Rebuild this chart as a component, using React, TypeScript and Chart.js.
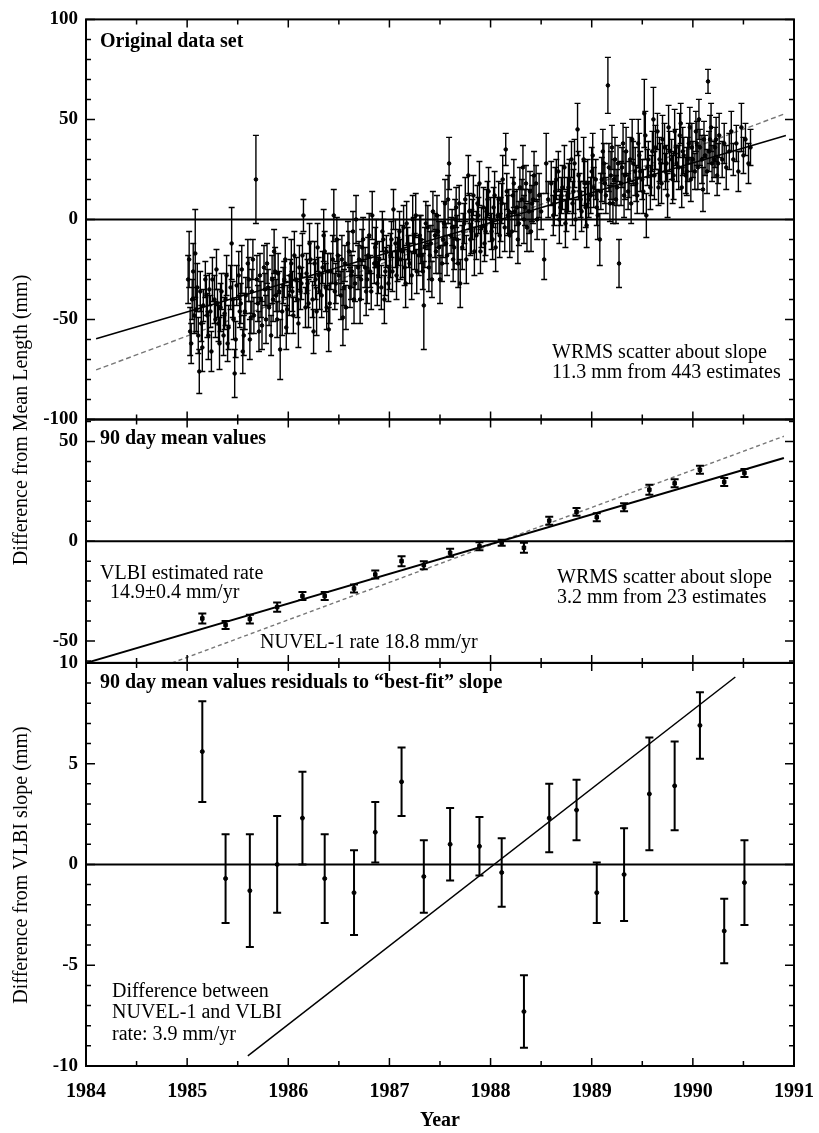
import React, { useEffect, useRef } from 'react';
import { Chart, registerables } from 'chart.js';

Chart.register(...registerables);

// axis tick values
const yearTicks = [1984, 1985, 1986, 1987, 1988, 1989, 1990, 1991];
const topTicks = [-100, -50, 0, 50, 100];
const midTicks = [-50, 0, 50];
const botTicks = [-10, -5, 0, 5, 10];

// panel 1: original data set (year, mm, +/- mm)
const origYears = [
  1985.02, 1985.03, 1985.05, 1985.07, 1985.08, 1985.10, 1985.12, 1985.14, 1985.16, 1985.19,
  1985.21, 1985.23, 1985.25, 1985.28, 1985.30, 1985.32, 1985.34, 1985.37, 1985.39, 1985.41,
  1985.44, 1985.45, 1985.47, 1985.49, 1985.52, 1985.54, 1985.56, 1985.58, 1985.61, 1985.63,
  1985.65, 1985.68, 1985.70, 1985.72, 1985.74, 1985.77, 1985.79, 1985.81, 1985.84, 1985.86,
  1985.88, 1985.90, 1985.92, 1985.95, 1985.97, 1985.99, 1986.02, 1986.04, 1986.06, 1986.09,
  1986.11, 1986.13, 1986.15, 1986.18, 1986.20, 1986.22, 1986.25, 1986.27, 1986.29, 1986.31,
  1986.34, 1986.35, 1986.38, 1986.40, 1986.42, 1986.45, 1986.47, 1986.49, 1986.52, 1986.54,
  1986.56, 1986.59, 1986.61, 1986.63, 1986.65, 1986.67, 1986.70, 1986.72, 1986.74, 1986.77,
  1986.79, 1986.81, 1986.83, 1986.86, 1986.88, 1986.90, 1986.93, 1986.95, 1986.97, 1987.00,
  1987.02, 1987.04, 1987.07, 1987.09, 1987.11, 1987.14, 1987.16, 1987.18, 1987.20, 1987.23,
  1987.25, 1987.27, 1987.30, 1987.32, 1987.34, 1987.36, 1987.39, 1987.41, 1987.43, 1987.46,
  1987.48, 1987.50, 1987.53, 1987.55, 1987.57, 1987.59, 1987.62, 1987.64, 1987.66, 1987.68,
  1987.70, 1987.73, 1987.75, 1987.78, 1987.80, 1987.82, 1987.84, 1987.87, 1987.89, 1987.91,
  1987.94, 1987.96, 1987.98, 1988.01, 1988.03, 1988.05, 1988.08, 1988.10, 1988.12, 1988.15,
  1988.17, 1988.19, 1988.22, 1988.24, 1988.27, 1988.29, 1988.32, 1988.34, 1988.36, 1988.39,
  1988.41, 1988.43, 1988.46, 1988.48, 1988.50, 1988.53, 1988.55, 1988.57, 1988.60, 1988.62,
  1988.64, 1988.67, 1988.69, 1988.71, 1988.74, 1988.76, 1988.78, 1988.81, 1988.83, 1988.86,
  1988.88, 1988.90, 1988.93, 1988.95, 1988.97, 1989.00, 1989.02, 1989.05, 1989.08, 1989.10,
  1989.12, 1989.14, 1989.16, 1989.19, 1989.21, 1989.23, 1989.25, 1989.27, 1989.30, 1989.32,
  1989.34, 1989.37, 1989.39, 1989.41, 1989.44, 1989.46, 1989.48, 1989.51, 1989.52, 1989.54,
  1989.56, 1989.59, 1989.61, 1989.63, 1989.66, 1989.68, 1989.70, 1989.73, 1989.75, 1989.77,
  1989.80, 1989.82, 1989.84, 1989.87, 1989.89, 1989.91, 1989.94, 1989.96, 1989.98, 1990.00,
  1990.03, 1990.05, 1990.07, 1990.10, 1990.12, 1990.15, 1990.17, 1990.19, 1990.22, 1990.24,
  1990.26, 1990.29, 1990.31, 1990.33, 1990.36, 1990.38, 1990.40, 1990.43, 1990.45, 1990.48,
  1990.50, 1990.52, 1990.55, 1990.57,
  // overlapping estimates inside the dense cloud
  1985.01, 1985.04, 1985.06, 1985.09, 1985.11, 1985.13, 1985.15, 1985.18, 1985.20, 1985.22,
  1985.24, 1985.27, 1985.29, 1985.31, 1985.33, 1985.36, 1985.38, 1985.40, 1985.43, 1985.46,
  1985.48, 1985.51, 1985.53, 1985.55, 1985.57, 1985.60, 1985.62, 1985.64, 1985.66, 1985.69,
  1985.71, 1985.73, 1985.76, 1985.78, 1985.80, 1985.83, 1985.85, 1985.87, 1985.89, 1985.91,
  1985.94, 1985.96, 1985.98, 1986.01, 1986.03, 1986.05, 1986.08, 1986.10, 1986.12, 1986.14,
  1986.17, 1986.19, 1986.21, 1986.24, 1986.26, 1986.28, 1986.30, 1986.33, 1986.36, 1986.37,
  1986.39, 1986.41, 1986.44, 1986.46, 1986.48, 1986.50, 1986.53, 1986.55, 1986.57, 1986.60,
  1986.62, 1986.64, 1986.66, 1986.69, 1986.71, 1986.73, 1986.76, 1986.78, 1986.80, 1986.82,
  1986.85, 1986.87, 1986.89, 1986.92, 1986.94, 1986.96, 1986.99, 1987.01, 1987.03, 1987.06,
  1987.08, 1987.10, 1987.13, 1987.15, 1987.17, 1987.19, 1987.22, 1987.24, 1987.26, 1987.29,
  1987.31, 1987.33, 1987.35, 1987.38, 1987.40, 1987.42, 1987.45, 1987.47, 1987.49, 1987.52,
  1987.54, 1987.56, 1987.58, 1987.61, 1987.63, 1987.65, 1987.67, 1987.69, 1987.72, 1987.74,
  1987.76, 1987.79, 1987.81, 1987.83, 1987.86, 1987.88, 1987.90, 1987.93, 1987.95, 1987.97,
  1988.00, 1988.02, 1988.04, 1988.07, 1988.09, 1988.11, 1988.14, 1988.16, 1988.18, 1988.21,
  1988.23, 1988.26, 1988.28, 1988.31, 1988.33, 1988.35, 1988.38, 1988.40, 1988.42, 1988.45,
  1988.63, 1988.65, 1988.68, 1988.70, 1988.73, 1988.75, 1988.77, 1988.80, 1988.82, 1988.84,
  1988.87, 1988.89, 1988.92, 1988.94, 1988.96, 1988.99, 1989.01, 1989.04, 1989.06, 1989.09,
  1989.11, 1989.13, 1989.17, 1989.18, 1989.20, 1989.22, 1989.24, 1989.26, 1989.29, 1989.31,
  1989.33, 1989.36, 1989.38, 1989.40, 1989.43, 1989.45, 1989.47, 1989.50, 1989.53, 1989.55,
  1989.58, 1989.60, 1989.62, 1989.65, 1989.67, 1989.69, 1989.72, 1989.74, 1989.76, 1989.79,
  1989.81, 1989.83, 1989.86, 1989.88, 1989.90, 1989.93, 1989.95, 1989.97, 1989.99, 1990.02,
  1990.04, 1990.06, 1990.09, 1990.11, 1990.14, 1990.16, 1990.18, 1990.21, 1990.23, 1990.25,
];
const origValues = [
  -20, -56, -40, -48, -17, -34, -76, -52, -43, -38,
  -58, -46, -30, -50, -42, -62, -36, -47, -28, -54,
  -12, -40, -77, -33, -46, -25, -58, -38, -30, -49,
  -20, 20, -42, -28, -53, -35, -22, -44, -30, -16,
  -38, -27, -65, -33, -20, -45, -28, -36, -18, -40,
  -24, -32, 2, -27, -42, -20, -56, -30, -14, -36,
  -24, -8, -44, -55, -26, 2, -32, -18, -38, -49,
  -22, -12, -34, -26, -40, 0, -20, -30, -10, -36,
  -18, -26, 2, -14, -32, -20, -6, -40, -16, -24,
  -10, 5, -28, -14, -20, -4, -32, -12, -22, 0,
  -16, -26, -8, -18, -43, -2, -24, -12, 4, -16,
  -6, -30, -10, 8, -18, 28, -4, -14, 6, -22,
  -32, -6, 10, 22, -10, 0, -16, 8, 18, -4,
  -12, 4, 14, -6, 6, -14, 10, 0, 20, 35,
  2, -8, 12, 4, -10, 16, 26, 6, -4, 14,
  8, 22, 0, 12, 4, -20, 28, 10, 18, 2,
  14, 24, 6, 16, -2, 12, 20, 8, 28, 45,
  14, 4, 18, -3, 10, 24, 16, 6, -10, 20,
  28, 12, 67, 22, 8, 30, 16, -22, 26, 12,
  34, 20, 8, 28, 18, 38, 24, 14, 53, 2,
  30, 22, 50, 36, 16, 28, 40, 24, 12, 34,
  20, 44, 28, 42, 16, 32, 24, 38, 20, 30,
  44, 26, 36, 15, 32, 69, 40, 28, 36, 22,
  42, 30, 38, 26, 34, 44, 30, 38, 24, 46,
  32, 40, 28, 36,
  -30, -62, -26, -45, -58, -36, -64, -30, -48, -35,
  -66, -40, -25, -52, -44, -58, -40, -62, -34, -50,
  -60, -28, -42, -66, -46, -22, -60, -36, -48, -30,
  -56, -40, -24, -50, -34, -58, -40, -26, -50, -36,
  -46, -30, -54, -38, -22, -48, -30, -52, -36, -18,
  -44, -32, -12, -40, -22, -46, -28, -38, -16, -34,
  -26, -42, -20, -36, -10, -28, -20, -34, -44, -16,
  -28, -6, -32, -24, -40, -14, -24, -30, -8, -36,
  -22, -12, -28, -34, -10, -26, -32, -18, -26, -12,
  -20, -6, -16, -24, -2, -16, -28, -8, 2, -18,
  -10, -26, -14, -4, -18, -30, -8, 2, -14, -22,
  -2, -12, 10, -8, -20, 0, -10, 8, -14, -2,
  -20, 4, -6, 12, -8, 2, -16, 6, -6, 10,
  0, -10, 12, 2, -8, 8, -4, 14, 4, -6,
  18, 6, -2, 10, 0, 18, 4, -6, 10, 18,
  8, 20, 0, 12, 26, 4, 16, 30, 14, 0,
  22, 10, 30, 6, 18, 12, 32, 20, 2, 14,
  34, 18, 26, 8, 36, 20, 10, 28, 18, 38,
  22, 14, 30, 40, 24, 12, 32, 20, 42, 26,
  16, 34, 22, 44, 30, 18, 36, 28, 46, 30,
  22, 36, 26, 48, 34, 22, 30, 46, 36, 24,
  38, 50, 30, 40, 24, 34, 46, 30, 40, 28,
];
const origErrors = [
  14, 12, 10, 9, 22, 12, 11, 9, 8, 10,
  12, 8, 11, 9, 7, 13, 9, 8, 10, 11,
  18, 9, 12, 10, 8, 12, 10, 9, 11, 8,
  10, 22, 9, 11, 12, 8, 10, 9, 12, 11,
  8, 10, 15, 9, 11, 12, 8, 10, 12, 9,
  11, 8, 8, 10, 12, 9, 11, 10, 12, 9,
  8, 13, 11, 11, 9, 13, 10, 8, 12, 14,
  9, 11, 10, 8, 12, 12, 9, 10, 11, 12,
  9, 8, 12, 10, 11, 9, 10, 12, 8, 11,
  9, 10, 12, 9, 10, 11, 12, 8, 10, 12,
  9, 11, 10, 8, 22, 11, 12, 9, 10, 11,
  8, 12, 9, 12, 10, 13, 9, 11, 10, 12,
  12, 9, 11, 10, 8, 10, 12, 9, 11, 10,
  9, 11, 12, 9, 10, 12, 9, 11, 12, 8,
  10, 11, 9, 10, 12, 10, 11, 9, 12, 10,
  9, 12, 10, 11, 9, 10, 15, 9, 11, 10,
  12, 10, 9, 11, 12, 9, 10, 11, 12, 13,
  9, 10, 11, 11, 9, 12, 10, 9, 13, 11,
  10, 9, 14, 12, 10, 11, 9, 12, 10, 11,
  12, 9, 10, 11, 9, 12, 10, 11, 17, 11,
  9, 10, 16, 11, 9, 10, 12, 9, 11, 10,
  12, 11, 9, 11, 10, 9, 12, 10, 11, 9,
  10, 11, 9, 11, 10, 6, 12, 9, 10, 10,
  11, 9, 10, 11, 9, 10, 8, 9, 10, 12,
  9, 8, 10, 9,
  12, 10, 14, 11, 9, 10, 12, 9, 11, 8,
  10, 12, 10, 9, 12, 10, 13, 9, 11, 10,
  9, 12, 10, 11, 9, 12, 10, 11, 9, 12,
  10, 9, 11, 12, 9, 10, 11, 12, 9, 10,
  12, 9, 11, 10, 12, 9, 11, 12, 9, 11,
  10, 12, 10, 9, 11, 12, 9, 11, 10, 12,
  9, 10, 12, 9, 11, 10, 12, 9, 11, 10,
  12, 10, 9, 11, 12, 9, 10, 12, 11, 9,
  10, 12, 9, 11, 10, 12, 9, 11, 10, 12,
  11, 10, 13, 9, 11, 8, 12, 9, 11, 10,
  12, 9, 10, 11, 12, 9, 11, 10, 13, 9,
  11, 10, 12, 9, 11, 10, 12, 9, 11, 10,
  12, 9, 11, 10, 12, 9, 11, 10, 12, 9,
  11, 10, 12, 9, 11, 10, 12, 9, 11, 10,
  12, 9, 11, 10, 12, 9, 11, 10, 12, 9,
  11, 10, 12, 9, 11, 10, 12, 9, 11, 10,
  12, 9, 11, 10, 12, 9, 11, 10, 12, 9,
  11, 10, 12, 9, 11, 10, 12, 9, 11, 10,
  12, 9, 11, 10, 12, 9, 11, 10, 12, 9,
  11, 10, 12, 9, 11, 10, 12, 9, 11, 10,
  12, 9, 11, 10, 12, 9, 11, 10, 12, 9,
  11, 10, 12, 9, 11, 10, 12, 9, 11, 10,
];

// rate lines (end points)
const vlbiTopX = [1984.1, 1990.92];
const vlbiTopY = [-59.6, 42.0];
const nuvelTopX = [1984.1, 1990.92];
const nuvelTopY = [-75.2, 53.0];

// panel 2: 90 day means
const epochYears = [
  1985.15, 1985.38, 1985.62, 1985.89, 1986.14, 1986.36, 1986.65, 1986.86, 1987.12, 1987.34,
  1987.60, 1987.89, 1988.11, 1988.33, 1988.58, 1988.85, 1989.05, 1989.32, 1989.57, 1989.82,
  1990.07, 1990.31, 1990.51,
];
const meanValues = [
  -38.7, -42, -39, -33, -27.5, -27.5, -23.7, -16.7, -10, -12,
  -5.8, -2.5, -0.8, -3.3, 10.3, 14.7, 12, 17, 25.8, 29,
  35.8, 29.7, 34.2,
];
const meanErrors = [
  2.5, 2, 2.2, 2.3, 2, 2, 2, 2, 2.5, 2,
  2, 2, 1.5, 2.5, 2, 2, 2, 2, 2.5, 2,
  2, 2, 2,
];
const vlbiMidX = [1984.0, 1990.9];
const vlbiMidY = [-61, 41.7];
const nuvelMidX = [1984.85, 1990.9];
const nuvelMidY = [-61, 52.6];

// panel 3: residuals to best-fit slope
const residValues = [
  5.6, -0.7, -1.3, 0, 2.3, -0.7, -1.4, 1.6, 4.1, -0.6,
  1.0, 0.9, -0.4, -7.3, 2.3, 2.7, -1.4, -0.5, 3.5, 3.9,
  6.9, -3.3, -0.9,
];
const residErrors = [
  2.5, 2.2, 2.8, 2.4, 2.3, 2.2, 2.1, 1.5, 1.7, 1.8,
  1.8, 1.45, 1.7, 1.8, 1.7, 1.5, 1.5, 2.3, 2.8, 2.2,
  1.65, 1.6, 2.1,
];
const diffLineX = [1985.6, 1990.42];
const diffLineY = [-9.5, 9.3];

const SERIF = '"Liberation Serif", "Times New Roman", serif';
const font = (size: number, bold = false) => `${bold ? 'bold ' : ''}${size}px ${SERIF}`;
const pts = (xs: number[], ys: number[]) => xs.map((x, i) => ({ x, y: ys[i] }));
const setTicks = (vals: number[]) => (s: any) => {
  s.ticks = vals.map(v => ({ value: v }));
};

const paperPlugin = {
  id: 'paperDecor',
  beforeDatasetsDraw(chart: any) {
    const { ctx, chartArea } = chart;
    ctx.save();
    ctx.strokeStyle = '#000';
    ctx.lineWidth = 2;
    ['yTop', 'yMid', 'yBot'].forEach(id => {
      const y0 = chart.scales[id].getPixelForValue(0);
      ctx.beginPath();
      ctx.moveTo(chartArea.left, y0);
      ctx.lineTo(chartArea.right, y0);
      ctx.stroke();
    });
    ctx.restore();
  },
  afterDatasetsDraw(chart: any) {
    const { ctx } = chart;
    ctx.save();
    ctx.strokeStyle = '#000';
    chart.data.datasets.forEach((ds: any, i: number) => {
      if (!ds.errors) return;
      const meta = chart.getDatasetMeta(i);
      const ys = chart.scales[ds.yAxisID];
      ctx.lineWidth = ds.errWidth;
      meta.data.forEach((pt: any, j: number) => {
        const v = ds.data[j].y;
        const e = ds.errors[j];
        const t = ys.getPixelForValue(v + e);
        const b = ys.getPixelForValue(v - e);
        ctx.beginPath();
        ctx.moveTo(pt.x, t);
        ctx.lineTo(pt.x, b);
        ctx.moveTo(pt.x - ds.capHalf, t);
        ctx.lineTo(pt.x + ds.capHalf, t);
        ctx.moveTo(pt.x - ds.capHalf, b);
        ctx.lineTo(pt.x + ds.capHalf, b);
        ctx.stroke();
      });
    });
    ctx.restore();
  },
  afterDraw(chart: any) {
    const { ctx, chartArea: { left, right } } = chart;
    const xs = chart.scales.x;
    const panels = [
      { s: chart.scales.yTop, minor: 10, major: 50 },
      { s: chart.scales.yMid, minor: 10, major: 50 },
      { s: chart.scales.yBot, minor: 1, major: 5 },
    ];
    ctx.save();
    ctx.strokeStyle = '#000';
    panels.forEach(({ s, minor, major }) => {
      ctx.lineWidth = 2;
      ctx.strokeRect(left, s.top, right - left, s.bottom - s.top);
      ctx.lineWidth = 1.5;
      ctx.beginPath();
      for (let v = Math.ceil(s.min / minor) * minor; v <= s.max + 1e-9; v += minor) {
        const y = s.getPixelForValue(v);
        const len = Math.abs(v % major) < 1e-6 ? 9 : 5;
        ctx.moveTo(left, y);
        ctx.lineTo(left + len, y);
        ctx.moveTo(right, y);
        ctx.lineTo(right - len, y);
      }
      for (let yr = xs.min; yr <= xs.max; yr += 0.5) {
        const x = xs.getPixelForValue(yr);
        const len = Number.isInteger(yr) ? 8 : 5;
        ctx.moveTo(x, s.top);
        ctx.lineTo(x, s.top + len);
        ctx.moveTo(x, s.bottom);
        ctx.lineTo(x, s.bottom - len);
      }
      ctx.stroke();
    });

    ctx.fillStyle = '#000';
    ctx.textBaseline = 'middle';
    const text = (str: string, x: number, y: number, size: number, bold = false, align: CanvasTextAlign = 'left') => {
      ctx.font = font(size, bold);
      ctx.textAlign = align;
      ctx.fillText(str, x, y);
    };
    // panel 1
    text('Original data set', 100, 42, 20, true);
    text('WRMS scatter about slope', 552, 353, 20);
    text('11.3 mm from 443 estimates', 552, 373, 20);
    // panel 2
    text('90 day mean values', 100, 439, 20, true);
    text('VLBI estimated rate', 100, 574, 20);
    text('14.9±0.4 mm/yr', 110, 593, 20);
    text('NUVEL-1 rate 18.8 mm/yr', 260, 643, 20);
    text('WRMS scatter about slope', 557, 578, 20);
    text('3.2 mm from 23 estimates', 557, 598, 20);
    // panel 3
    text('90 day mean values residuals to \u201Cbest-fit\u201D slope', 100, 683, 20, true);
    text('Difference between', 112, 992, 20);
    text('NUVEL-1 and VLBI', 112, 1013, 20);
    text('rate: 3.9 mm/yr', 112, 1035, 20);
    // axis titles
    text('Year', (left + right) / 2, 1121, 20, true, 'center');
    const vtext = (str: string, x: number, y: number) => {
      ctx.save();
      ctx.translate(x, y);
      ctx.rotate(-Math.PI / 2);
      ctx.font = font(20);
      ctx.textAlign = 'center';
      ctx.fillText(str, 0, 0);
      ctx.restore();
    };
    vtext('Difference from Mean Length (mm)', 22, 420);
    vtext('Difference from VLBI slope (mm)', 22, 865);
    ctx.restore();
  },
};

const yAxis = (min: number, max: number, weight: number, ticks: number[]) => ({
  type: 'linear' as const,
  position: 'left' as const,
  stack: 'panels',
  stackWeight: weight,
  min,
  max,
  afterBuildTicks: setTicks(ticks),
  afterFit: (s: any) => {
    s.width = 86;
  },
  grid: { display: false, drawTicks: false },
  border: { display: false },
  ticks: {
    padding: 8,
    color: '#000',
    font: { family: SERIF, size: 19, weight: 'bold' as const },
    callback: (v: any) => String(v),
  },
});

export default function App() {
  const canvasRef = useRef<HTMLCanvasElement>(null);

  useEffect(() => {
    if (!canvasRef.current) return;
    const chart = new Chart(canvasRef.current, {
      type: 'scatter',
      data: {
        datasets: [
          {
            label: 'Original data set',
            data: pts(origYears, origValues),
            yAxisID: 'yTop',
            errors: origErrors,
            errWidth: 1.4,
            capHalf: 3,
            pointRadius: 1.8,
            backgroundColor: '#000',
            borderColor: '#000',
          } as any,
          {
            label: 'VLBI rate',
            data: pts(vlbiTopX, vlbiTopY),
            yAxisID: 'yTop',
            showLine: true,
            borderColor: '#000',
            borderWidth: 1.6,
            pointRadius: 0,
          },
          {
            label: 'NUVEL-1 rate',
            data: pts(nuvelTopX, nuvelTopY),
            yAxisID: 'yTop',
            showLine: true,
            borderColor: '#777',
            borderDash: [5, 3],
            borderWidth: 1.4,
            pointRadius: 0,
          },
          {
            label: '90 day mean values',
            data: pts(epochYears, meanValues),
            yAxisID: 'yMid',
            errors: meanErrors,
            errWidth: 2,
            capHalf: 4,
            pointStyle: 'rect',
            pointRadius: 2.5,
            backgroundColor: '#000',
            borderColor: '#000',
          } as any,
          {
            label: 'VLBI estimated rate',
            data: pts(vlbiMidX, vlbiMidY),
            yAxisID: 'yMid',
            showLine: true,
            borderColor: '#000',
            borderWidth: 2,
            pointRadius: 0,
          },
          {
            label: 'NUVEL-1 rate 18.8 mm/yr',
            data: pts(nuvelMidX, nuvelMidY),
            yAxisID: 'yMid',
            showLine: true,
            borderColor: '#777',
            borderDash: [4, 3],
            borderWidth: 1.4,
            pointRadius: 0,
          },
          {
            label: 'Residuals',
            data: pts(epochYears, residValues),
            yAxisID: 'yBot',
            errors: residErrors,
            errWidth: 2,
            capHalf: 4,
            pointRadius: 2,
            backgroundColor: '#000',
            borderColor: '#000',
          } as any,
          {
            label: 'NUVEL-1 minus VLBI',
            data: pts(diffLineX, diffLineY),
            yAxisID: 'yBot',
            showLine: true,
            borderColor: '#000',
            borderWidth: 1.5,
            pointRadius: 0,
          },
        ],
      },
      options: {
        animation: false,
        responsive: true,
        maintainAspectRatio: false,
        layout: { padding: { top: 17, right: 25, bottom: 0, left: 0 } },
        plugins: { legend: { display: false }, tooltip: { enabled: false } },
        scales: {
          x: {
            type: 'linear',
            position: 'bottom',
            min: 1984,
            max: 1991,
            afterBuildTicks: setTicks(yearTicks),
            afterFit: (s: any) => {
              s.height = 67;
              s.paddingLeft = 0;
              s.paddingRight = 0;
            },
            grid: { display: false, drawTicks: false },
            border: { display: false },
            ticks: {
              padding: 14,
              color: '#000',
              font: { family: SERIF, size: 20, weight: 'bold' },
              callback: (v: any) => String(v),
            },
          },
          yBot: yAxis(-10, 10, 404, botTicks),
          yMid: yAxis(-61, 61, 244, midTicks),
          yTop: yAxis(-100, 100, 401, topTicks),
        } as any,
      },
      plugins: [paperPlugin],
    });
    return () => chart.destroy();
  }, []);

  return (
    <div style={{ position: 'absolute', left: 0, top: 0, width: 819, height: 1133, background: '#fff' }}>
      <canvas ref={canvasRef} />
    </div>
  );
}
